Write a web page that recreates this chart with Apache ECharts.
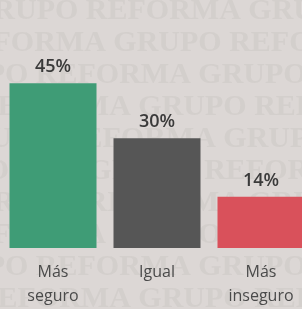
<!DOCTYPE html>
<html lang="es">
<head>
<meta charset="utf-8" />
<style>
  html, body { margin: 0; padding: 0; background: #dcd7d5; }
  .box { width: 302px; height: 309px; }
</style>
</head>
<body>
<div class="box"></div>
<script src="https://cdn.jsdelivr.net/npm/echarts@6/dist/echarts.min.js"></script>
<script>
// datos
var categorias = ['Más\nseguro', 'Igual', 'Más\ninseguro'];
var valores = [45, 30, 14];
var colores = ['#3f9c76', '#565656', '#d9515b'];
var marcaAgua = 'GRUPO REFORMA GRUPO REFORMA GRUPO REFORMA';

var myChart = echarts.init(document.querySelector('.box'));

// marca de agua de fondo
var filas = [];
for (var i = 0; i < 10; i++) {
    filas.push({
        type: 'text',
        z: -10,
        x: -30 - (i % 2) * 110 - (i % 3) * 25,
        y: -4 + i * 32,
        style: {
            text: marcaAgua,
            fill: 'rgba(120,110,108,0.08)',
            font: 'bold 30px "Liberation Serif", serif'
        }
    });
}

var option = {
    backgroundColor: '#dcd7d5',
    animation: false,
    graphic: filas,
    grid: { left: 1, width: 312, top: 65, bottom: 61, outerBoundsMode: 'none', containLabel: false },
    xAxis: {
        type: 'category',
        data: categorias,
        axisLine: { show: false },
        axisTick: { show: false },
        axisLabel: {
            color: '#4a4a4a',
            fontSize: 16,
            lineHeight: 24,
            margin: 12,
            fontFamily: 'Open Sans',
            interval: 0
        }
    },
    yAxis: {
        type: 'value',
        min: 0,
        max: 50,
        show: false,
        splitLine: { show: false }
    },
    series: [{
        type: 'bar',
        barWidth: 87,
        data: valores.map(function (v, i) {
            return { value: v, itemStyle: { color: colores[i] } };
        }),
        label: {
            show: true,
            position: 'top',
            distance: 7,
            formatter: '{c}%',
            color: '#3a3a3a',
            fontSize: 18,
            fontWeight: 600,
            fontFamily: 'Open Sans'
        }
    }]
};

myChart.setOption(option);
</script>
</body>
</html>
